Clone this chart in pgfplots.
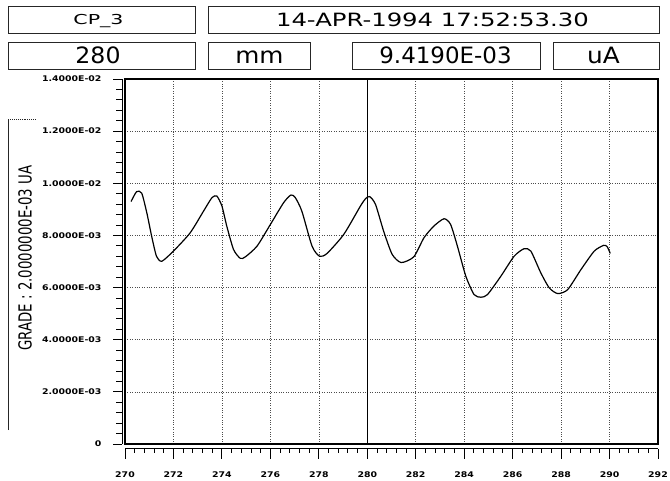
\documentclass[border=0pt]{standalone}
\usepackage{graphicx}
\usepackage{fontspec}
\setmainfont{DejaVu Sans}
\newfontfamily\tickfont[FakeStretch=1.2]{DejaVu Sans}
\usepackage{pgfplots}
\pgfplotsset{compat=1.18}

\begin{document}
\begin{tikzpicture}
\path[use as bounding box] (0,0) rectangle (670pt,-481pt);

% header boxes and side label
\begin{scope}[x=1pt,y=-1pt]
  \begin{scope}[line width=0.9pt, draw=black!85]
    \draw (8.3,6) rectangle (195,33);
    \draw (208,6) rectangle (659,33);
    \draw (8.3,42) rectangle (195,69);
    \draw (208,42) rectangle (310,69);
    \draw (352,42) rectangle (540,69);
    \draw (553,42) rectangle (659,69);
  \end{scope}
  \node[anchor=base, inner sep=0] at (98.5,25) {\fontsize{13.7}{14}\selectfont\scalebox{1.5}[1]{CP\_3}};
  \node[anchor=base, inner sep=0] at (432.5,26.7) {\fontsize{18.3}{19}\selectfont\scalebox{1.33}[1]{14-APR-1994 17:52:53.30}};
  \node[anchor=base, inner sep=0] at (98,63.3) {\fontsize{22.5}{23}\selectfont\scalebox{1.05}[1]{280}};
  \node[anchor=base, inner sep=0] at (259.5,63.3) {\fontsize{22.5}{23}\selectfont\scalebox{1.1}[1]{mm}};
  \node[anchor=base, inner sep=0] at (445.5,63.3) {\fontsize{22.5}{23}\selectfont\scalebox{1.02}[1]{9.4190E-03}};
  \node[anchor=base, inner sep=0] at (603.5,63.3) {\fontsize{22.5}{23}\selectfont\scalebox{1.1}[1]{uA}};

  \draw[line width=0.9pt, black!85] (8.3,430) -- (8.3,119);
  \draw[line width=0.9pt, black!85, densely dotted] (8.3,119) -- (35,119);
  \node[rotate=90, inner sep=0] at (25,258) {\fontsize{18}{18}\selectfont\scalebox{0.74}[1]{GRADE : 2.0000000E-03 UA}};
\end{scope}

% plot box with grid and curve
\begin{axis}[
  at={(125pt,-444pt)}, anchor=south west,
  scale only axis, width=533pt, height=365pt,
  xmin=270, xmax=292, ymin=0, ymax=0.014,
  xtick={272,274,276,278,282,284,286,288,290},
  ytick={0.002,0.004,0.006,0.008,0.010,0.012},
  xticklabels={}, yticklabels={},
  scaled ticks=false,
  major tick length=0pt,
  grid=major,
  major grid style={dotted, black!70, line width=0.6pt},
  axis line style={line width=1.1pt},
]
\addplot[black, line width=1.2pt, smooth, tension=0.4] coordinates {
  (270.25,0.00930) (270.48,0.00968) (270.69,0.00962) (270.90,0.00887)
  (271.10,0.00797) (271.30,0.00720) (271.52,0.00701) (272.00,0.00740)
  (272.69,0.00810) (273.24,0.00893) (273.59,0.00945) (273.79,0.00951)
  (274.00,0.00913) (274.20,0.00836) (274.48,0.00746) (274.76,0.00712)
  (274.97,0.00718) (275.45,0.00759) (276.00,0.00842) (276.55,0.00926)
  (276.85,0.00955) (277.03,0.00945) (277.30,0.00893) (277.72,0.00759)
  (278.03,0.00720) (278.34,0.00731) (279.03,0.00804) (279.72,0.00913)
  (279.93,0.00941) (280.10,0.00949) (280.34,0.00919) (280.68,0.00815)
  (281.03,0.00727) (281.40,0.00696) (281.92,0.00718) (282.34,0.00791)
  (282.75,0.00836) (283.17,0.00864) (283.44,0.00842) (283.72,0.00759)
  (284.07,0.00643) (284.41,0.00573) (284.69,0.00563) (284.96,0.00573)
  (285.51,0.00643) (286.06,0.00720) (286.47,0.00749) (286.75,0.00740)
  (287.16,0.00657) (287.51,0.00599) (287.86,0.00577) (288.27,0.00592)
  (288.82,0.00669) (289.37,0.00740) (289.76,0.00762) (289.90,0.00757)
  (290.03,0.00731)
};
% cursor at 280 mm
\addplot[black, line width=1.1pt] coordinates {(280,0) (280,0.014)};
\end{axis}

% x ruler
\begin{axis}[
  at={(125pt,-448.5pt)}, anchor=south west,
  scale only axis, width=533pt, height=20pt,
  xmin=270, xmax=292, ymin=0, ymax=1,
  axis x line*=bottom, axis y line=none, ytick=\empty,
  xtick={270,272,274,276,278,280,282,284,286,288,290,292},
  xticklabels={270,272,274,276,278,280,282,284,286,288,290,292},
  minor x tick num=4,
  tick align=outside,
  major tick length=10pt, minor tick length=4pt,
  tick style={black, line width=0.9pt},
  axis line style={line width=1pt},
  xticklabel style={font=\tickfont\bfseries\fontsize{7.8}{8}\selectfont, yshift=-10pt},
]
\end{axis}

% y ruler
\begin{axis}[
  at={(122pt,-444pt)}, anchor=south west,
  scale only axis, width=20pt, height=365pt,
  xmin=0, xmax=1, ymin=0, ymax=0.014,
  axis y line*=left, axis x line=none, xtick=\empty,
  ytick={0,0.002,0.004,0.006,0.008,0.010,0.012,0.014},
  yticklabels={0,2.0000E-03,4.0000E-03,6.0000E-03,8.0000E-03,1.0000E-02,1.2000E-02,1.4000E-02},
  scaled ticks=false,
  minor y tick num=4,
  tick align=outside,
  major tick length=9pt, minor tick length=6pt,
  tick style={black, line width=0.9pt},
  axis line style={line width=1pt},
  yticklabel style={font=\tickfont\bfseries\fontsize{7.8}{8}\selectfont, anchor=east, xshift=-8pt},
]
\end{axis}
\end{tikzpicture}
\end{document}
